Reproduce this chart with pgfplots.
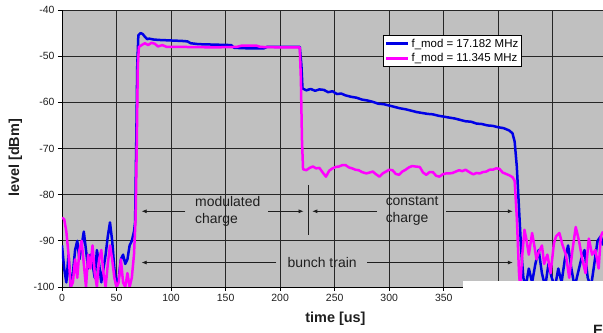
\documentclass[border=0pt]{standalone}
\usepackage{pgfplots}
\pgfplotsset{compat=1.18}
\usepackage{fontspec}
\setmainfont{Liberation Sans}
\usetikzlibrary{arrows.meta}
\definecolor{bgray}{RGB}{192,192,192}
\definecolor{sblue}{RGB}{0,0,230}
\definecolor{smag}{RGB}{255,0,255}
\definecolor{txt}{RGB}{30,30,30}
\begin{document}
\begin{tikzpicture}
\path[use as bounding box] (-62bp,-46bp) rectangle (541bp,287bp);
\begin{axis}[
  at={(0,0)}, anchor=south west,
  scale only axis, width=541bp, height=277bp,
  xmin=0, xmax=496, ymin=-100, ymax=-40,
  axis x line*=bottom, axis y line*=left,
  axis line style={-, black, line width=0.8bp},
  axis background/.style={fill=bgray},
  xtick={0,50,...,450}, xticklabels={0,50,100,150,200,250,300,350,,},
  ytick={-100,-90,...,-40},
  grid=major, grid style={black!85, line width=0.9bp},
  tick align=outside, major tick length=4bp,
  tick style={black, line width=0.8bp},
  /pgf/number format/assume math mode=true,
  ticklabel style={font=\fontsize{10.5}{12}\selectfont, text=txt},
  xlabel={\textbf{time [us]}}, ylabel={\textbf{level [dBm]}},
  label style={font=\fontsize{14.5}{16}\selectfont, text=txt},
  xlabel style={at={(axis description cs:0.5055,-0.1155)}, anchor=center},
  ylabel style={at={(axis description cs:-0.086,0.466)}, anchor=center},
  clip=true,
  legend style={at={(axis description cs:0.593,0.91)}, anchor=north west,
    draw=black, line width=0.6bp, fill=white, font=\fontsize{11.5}{13}\selectfont,
    inner sep=1.5bp, row sep=1bp, cells={anchor=west}},
  legend image code/.code={\draw[#1, line width=3bp] (0bp,0bp) -- (22bp,0bp);},
]
\addplot[sblue, line width=2.5bp, line join=round] coordinates {
(0,-91)(2,-96)(4,-99)(6,-93)(8,-100)(10,-97)(12,-92)(14,-90)(16,-94)(18,-91)
(20,-88)(22,-92)(24,-96)(26,-93)(28,-95)(30,-98)(32,-92)(34,-95)(36,-99)(38,-96)
(40,-93)(42,-89)(44,-86)(46,-90)(48,-96)(50,-100)(52,-98)(54,-94)(56,-93)(58,-95)
(60,-94)(62,-91)(64,-90)(66,-88)(67,-86)(68,-70)(69,-52)(70,-45.5)(72,-45)(74,-45.2)
(76,-45.8)(78,-46.3)(80,-46.2)(84,-46.4)(90,-46.5)(100,-46.6)(110,-46.7)(115,-46.8)
(118,-47.2)(125,-47.4)(140,-47.5)(155,-47.6)(158,-48.2)(170,-48.3)(185,-48.3)(188,-48)
(200,-48)(210,-48)(218,-48)(219.5,-52)(220.5,-57)(224,-57.4)(228,-57.1)(232,-57.5)
(236,-57.2)(240,-57.3)(244,-57.8)(248,-57.6)(252,-58.2)(256,-58.1)(260,-58.5)(265,-58.8)
(270,-59)(275,-59.4)(280,-59.6)(285,-59.9)(290,-60.3)(295,-60.4)(300,-60.7)(305,-61)
(310,-61.3)(315,-61.5)(320,-61.8)(325,-62.1)(330,-62.3)(335,-62.5)(340,-62.6)(345,-62.9)
(350,-63.1)(355,-63.3)(360,-63.5)(365,-63.8)(370,-64.1)(375,-64.2)(380,-64.6)(385,-64.7)
(390,-65)(395,-65.1)(400,-65.4)(405,-65.6)(410,-66.1)(413,-66.7)(415,-68.5)(417,-74)
(419,-83)(421,-92)(423,-98)(425,-100)(428,-96)(431,-99)(434,-95)(437,-92)(440,-97)
(443,-100)(446,-95)(449,-98)(452,-100)(455,-96)(458,-99)(461,-94)(464,-91)(467,-96)
(470,-100)(473,-97)(476,-94)(479,-92)(482,-98)(485,-100)(488,-95)(491,-90)(494,-89)(496,-91)
};
\addlegendentry{f\_mod = 17.182 MHz}
\addplot[smag, line width=2.5bp, line join=round] coordinates {
(0,-85)(2,-85.3)(4,-88)(6,-93)(8,-100)(10,-99)(12,-94)(14,-98)(16,-92)(18,-90)
(20,-95)(22,-100)(24,-93)(26,-96)(28,-91)(30,-97)(32,-100)(34,-94)(36,-92)(38,-97)
(40,-100)(42,-95)(44,-91)(46,-94)(48,-98)(50,-100)(52,-99)(54,-94)(56,-99)(58,-100)
(60,-97)(62,-100)(64,-98)(66,-93)(67.5,-85)(68.5,-70)(69.5,-52)(70.5,-48)(73,-47.6)
(76,-47.2)(79,-47.6)(82,-47.1)(85,-47.3)(88,-47.9)(92,-47.6)(96,-48)(110,-48)(140,-48.1)
(160,-48)(165,-47.7)(178,-47.7)(182,-48)(200,-48.1)(218,-48.1)(219,-55)(220,-68)(221,-74.5)
(224,-74.7)(227,-74.2)(230,-73.9)(233,-74.3)(236,-74.2)(239,-75.2)(242,-76.1)(245,-74.8)
(248,-74.3)(251,-74)(254,-73.9)(257,-73.6)(260,-73.6)(263,-74.1)(266,-74.3)(269,-74.6)
(272,-74.7)(275,-75.1)(279,-75.4)(282,-75.2)(285,-75)(288,-75.6)(291,-76.1)(294,-75.4)
(297,-75)(300,-74.6)(303,-74.7)(306,-75.5)(309,-75.7)(312,-75)(315,-74.6)(318,-74.1)
(321,-73.8)(324,-73.9)(328,-74)(331,-75.2)(334,-75.7)(337,-75.1)(340,-75.1)(343,-75.9)
(346,-76.1)(349,-75.6)(352,-75.4)(355,-75.4)(358,-75.3)(361,-75)(364,-74.7)(367,-74.9)
(370,-74.6)(374,-75.2)(377,-75.6)(380,-75.3)(383,-75.4)(386,-75.1)(389,-75)(392,-74.6)
(395,-74.6)(398,-74.3)(401,-74.4)(404,-75.2)(407,-75.5)(410,-75.8)(413,-76.2)(415,-77)
(417,-85)(419,-97)(420,-100)(422,-93)(424,-87.6)(426,-90)(428,-93)(431,-88.3)(433,-91)
(435,-94)(437,-92.5)(440,-91)(442,-95)(445,-93)(448,-97)(451,-90.5)(453,-89)(456,-88.3)
(459,-91)(462,-93)(465,-98)(468,-92)(471,-87)(474,-90)(477,-94)(480,-97)(483,-89.5)
(486,-93)(489,-92)(492,-96)(494,-89)(496,-88)
};
\addlegendentry{f\_mod = 11.345 MHz}
% annotations
\draw[txt, line width=0.7bp, -{Latex[length=5bp,width=4bp]}] (axis cs:113,-83.6) -- (axis cs:73,-83.6);
\draw[txt, line width=0.7bp, -{Latex[length=5bp,width=4bp]}] (axis cs:189,-83.6) -- (axis cs:221.5,-83.6);
\draw[txt, line width=0.7bp] (axis cs:225.5,-77.9) -- (axis cs:225.5,-88.7);
\draw[txt, line width=0.7bp, -{Latex[length=5bp,width=4bp]}] (axis cs:289,-83.6) -- (axis cs:229.5,-83.6);
\draw[txt, line width=0.7bp, -{Latex[length=5bp,width=4bp]}] (axis cs:352,-83.6) -- (axis cs:413.3,-83.6);
\draw[txt, line width=0.7bp, -{Latex[length=5bp,width=4bp]}] (axis cs:196.6,-94.7) -- (axis cs:73,-94.7);
\draw[txt, line width=0.7bp, -{Latex[length=5bp,width=4bp]}] (axis cs:280,-94.7) -- (axis cs:413.3,-94.7);
\node[txt, align=left, font=\fontsize{14}{17}\selectfont, inner sep=0pt] at (axis cs:152,-83.6) {modulated\\charge};
\node[txt, align=left, font=\fontsize{14}{17}\selectfont, inner sep=0pt] at (axis cs:321,-83.6) {constant\\charge};
\node[txt, font=\fontsize{14}{17}\selectfont, inner sep=0pt] at (axis cs:238.5,-94.7) {bunch train};
\coordinate (wr) at (axis cs:367.6,-98.7);
\end{axis}
\fill[white] (wr) rectangle (545bp,-50bp);
\node[anchor=north west, inner sep=0pt, font=\fontsize{15}{17}\bfseries, text=txt] at (531bp,-38bp) {E};
\end{tikzpicture}
\end{document}
